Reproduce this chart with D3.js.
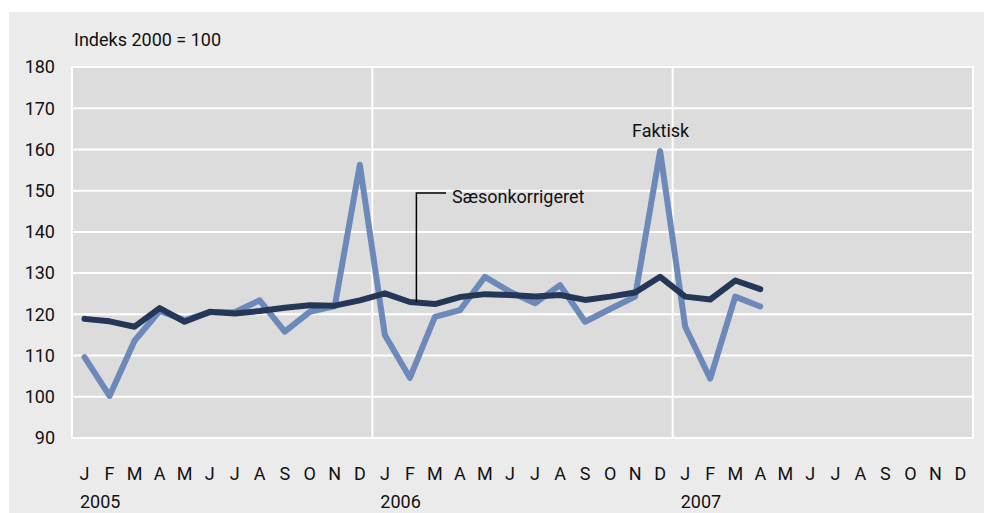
<!DOCTYPE html>
<html lang="da">
  <head>
    <meta charset="UTF-8" />
    <title>Indeks 2000 = 100</title>
    <script src="https://cdn.jsdelivr.net/npm/d3@7/dist/d3.min.js"></script>
    <style>
      body {
        margin: 0;
        padding: 0;
        background: #fff;
      }
      text {
        font-family: Roboto, 'Noto Sans', sans-serif;
        fill: #111;
      }
    </style>
  </head>

  <body>
    <svg width="984" height="513"></svg>

    <script>
      // månedsbogstaver, 3 år
      var monthLetters = ['J', 'F', 'M', 'A', 'M', 'J', 'J', 'A', 'S', 'O', 'N', 'D']
      var years = ['2005', '2006', '2007']
      var yTicks = [90, 100, 110, 120, 130, 140, 150, 160, 170, 180]

      // Faktisk, jan 2005 - apr 2007
      var faktisk = [
        109.6, 100.2, 113.6, 120.8, 118.6, 120.5, 120.5, 123.4, 115.8, 120.6, 122, 156.3,
        115, 104.6, 119.4, 121, 129.1, 125.5, 122.7, 127.1, 118.2, 121.3, 124.3, 159.6,
        117, 104.4, 124.3, 121.9,
      ]
      // Sæsonkorrigeret
      var saeson = [
        118.9, 118.3, 117, 121.5, 118.2, 120.6, 120.2, 120.8, 121.6, 122.2, 122.1, 123.4,
        125.1, 123, 122.5, 124.2, 124.9, 124.7, 124.3, 124.7, 123.5, 124.3, 125.3, 129.1,
        124.3, 123.6, 128.2, 126.1,
      ]

      var svg = d3.select('svg')
      var plot = { left: 72, right: 973, top: 67, bottom: 438 }
      var fs = 18

      // grå baggrund
      svg.append('rect')
        .attr('x', 9).attr('y', 12)
        .attr('width', 975).attr('height', 501)
        .attr('fill', '#ebebeb')

      svg.append('rect')
        .attr('x', plot.left).attr('y', plot.top)
        .attr('width', plot.right - plot.left)
        .attr('height', plot.bottom - plot.top)
        .attr('fill', '#dcdcdc')

      var months = d3.range(years.length * 12)
      var xScale = d3.scaleBand().domain(months).range([plot.left, plot.right])
      var xc = (i) => xScale(i) + xScale.bandwidth() / 2
      var yScale = d3.scaleLinear().domain([90, 180]).range([plot.bottom, plot.top])

      // vandrette gitterlinjer
      svg.append('g')
        .selectAll('line')
        .data(yTicks)
        .enter()
        .append('line')
        .attr('x1', plot.left).attr('x2', plot.right)
        .attr('y1', (d) => yScale(d)).attr('y2', (d) => yScale(d))
        .attr('stroke', '#fff').attr('stroke-width', 2)

      // lodrette linjer ved årsskift + kanter
      var yearBounds = d3.range(years.length + 1).map((i) =>
        i < years.length ? xScale(i * 12) : plot.right)
      svg.append('g')
        .selectAll('line')
        .data(yearBounds)
        .enter()
        .append('line')
        .attr('x1', (d) => d).attr('x2', (d) => d)
        .attr('y1', plot.top - 1).attr('y2', plot.bottom + 1)
        .attr('stroke', '#fff').attr('stroke-width', 2)

      // y-akse tal
      svg.append('g')
        .selectAll('text')
        .data(yTicks)
        .enter()
        .append('text')
        .attr('x', 55)
        .attr('y', (d) => yScale(d))
        .attr('dy', '0.35em')
        .attr('text-anchor', 'end')
        .attr('font-size', fs)
        .text((d) => d)

      // måneder
      svg.append('g')
        .selectAll('text')
        .data(months)
        .enter()
        .append('text')
        .attr('x', (d) => xc(d))
        .attr('y', 480)
        .attr('text-anchor', 'middle')
        .attr('font-size', fs)
        .text((d) => monthLetters[d % 12])

      // år
      svg.append('g')
        .selectAll('text')
        .data(years)
        .enter()
        .append('text')
        .attr('x', (d, i) => xScale(i * 12) + 8)
        .attr('y', 508)
        .attr('font-size', fs)
        .text((d) => d)

      svg.append('text')
        .attr('x', 74).attr('y', 46)
        .attr('font-size', fs)
        .text('Indeks 2000 = 100')

      var line = d3.line()
        .x((d, i) => xc(i))
        .y((d) => yScale(d))

      svg.append('path')
        .datum(faktisk)
        .attr('d', line)
        .attr('fill', 'none')
        .attr('stroke', '#6d89b9')
        .attr('stroke-width', 6)
        .attr('stroke-linejoin', 'round')
        .attr('stroke-linecap', 'round')

      svg.append('path')
        .datum(saeson)
        .attr('d', line)
        .attr('fill', 'none')
        .attr('stroke', '#253756')
        .attr('stroke-width', 6)
        .attr('stroke-linejoin', 'round')
        .attr('stroke-linecap', 'round')

      // annoteringer
      var lx = (xc(13) + xc(14)) / 2 - 6
      svg.append('path')
        .attr('d', `M${lx},${yScale(123)} V193 H446`)
        .attr('fill', 'none')
        .attr('stroke', '#000')
        .attr('stroke-width', 1.5)
      svg.append('text')
        .attr('x', 452).attr('y', 203)
        .attr('font-size', fs)
        .text('Sæsonkorrigeret')

      svg.append('text')
        .attr('x', 632).attr('y', 137)
        .attr('font-size', fs)
        .text('Faktisk')
    </script>
  </body>
</html>
